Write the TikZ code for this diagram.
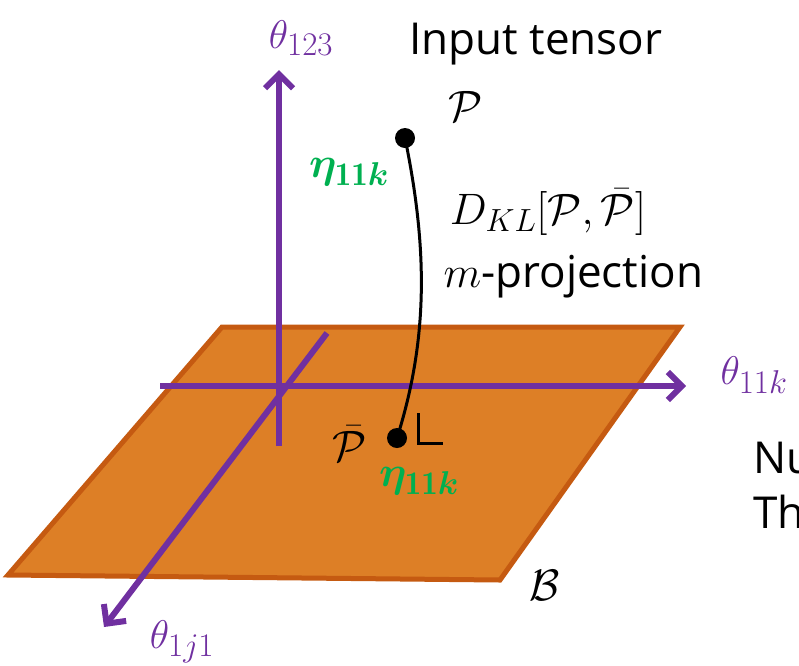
\RequirePackage{fix-cm}
\documentclass[tikz,border=0pt]{standalone}
\usepackage{amsmath}
\usepackage{bm}
\usepackage{fontspec}
\newfontfamily\sanstext{Open Sans}
\usetikzlibrary{arrows.meta}
\definecolor{axispurple}{RGB}{112,48,160}
\definecolor{planeorange}{RGB}{221,127,38}
\definecolor{planeedge}{RGB}{197,90,17}
\definecolor{etagreen}{RGB}{0,176,80}
% 下标放大一些
\DeclareMathSizes{40}{40}{33}{24}
\DeclareMathSizes{43}{43}{33}{24}
\DeclareMathSizes{44}{44}{32}{24}

\begin{document}
\begin{tikzpicture}[x=1pt,y=-1pt,
    axis/.style={line width=6pt,axispurple,-{Straight Barb[length=14pt,width=28pt]}},
    axislabel/.style={text=axispurple,font=\fontsize{40}{48}\selectfont},
    etalabel/.style={text=etagreen,font=\fontsize{43}{50}\selectfont},
    mathlabel/.style={font=\fontsize{44}{52}\selectfont},
    textlabel/.style={font=\fontsize{44}{52}\selectfont\sanstext},
    dot/.style={circle,fill=black,inner sep=0pt,minimum size=20pt}]
    \useasboundingbox (0,0) rectangle (799,665);

    % 平面 B
    \coordinate (A) at (222,327);
    \coordinate (B) at (680,327);
    \coordinate (C) at (500,580);
    \coordinate (D) at (8,575);
    \filldraw[fill=planeorange,draw=planeedge,line width=5pt] (A) -- (B) -- (C) -- (D) -- cycle;
    \node[mathlabel] (Bname) at (545,585) {$\mathcal{B}$};

    % 坐标轴
    \coordinate (zS) at (279,446);
    \coordinate (zE) at (279,70);
    \coordinate (xS) at (160,386);
    \coordinate (xE) at (686,386);
    \coordinate (yS) at (327,333);
    \coordinate (yE) at (104,627);
    \draw[axis] (zS) -- (zE);
    \draw[axis] (xS) -- (xE);
    \draw[axis] (yS) -- (yE);
    \node[axislabel] (t123) at (301,38) {$\theta_{123}$};
    \node[axislabel] (t11k) at (754,375) {$\theta_{11k}$};
    \node[axislabel] (t1j1) at (182,642) {$\theta_{1j1}$};

    % 输入张量 P 与投影点
    \node[dot] (pdot) at (405,138) {};
    \node[dot] (pbdot) at (397,438) {};
    \draw[line width=3pt] (pdot.center) .. controls (428,250) and (428,340) .. (pbdot.center);
    \node[mathlabel] (pname) at (466,106) {$\mathcal{P}$};
    \node[mathlabel] (pbname) at (350,444) {$\bar{\mathcal{P}}$};
    \node[textlabel] (input) at (536,44) {Input tensor};

    % 直角记号
    \draw[line width=3pt] (pbdot) ++(21,-25) |- ++(25,30);

    % eta 坐标
    \node[etalabel] (eta1) at (349,172) {$\bm{\eta}_{\mathbf{11}\bm{k}}$};
    \node[etalabel] (eta2) at (419,481) {$\bm{\eta}_{\mathbf{11}\bm{k}}$};

    % KL 散度
    \node[mathlabel] (dkl) at (548,212) {$D_{KL}[\mathcal{P},\bar{\mathcal{P}}]$};
    \node[textlabel,anchor=base west] (mproj) at (440,287) {$m$-projection};

    % 右侧文字
    \node[textlabel,anchor=base west,inner sep=0pt] (nu) at (753,473) {Nu};
    \node[textlabel,anchor=base west,inner sep=0pt] (th) at (753,528) {Th};
\end{tikzpicture}
\end{document}
